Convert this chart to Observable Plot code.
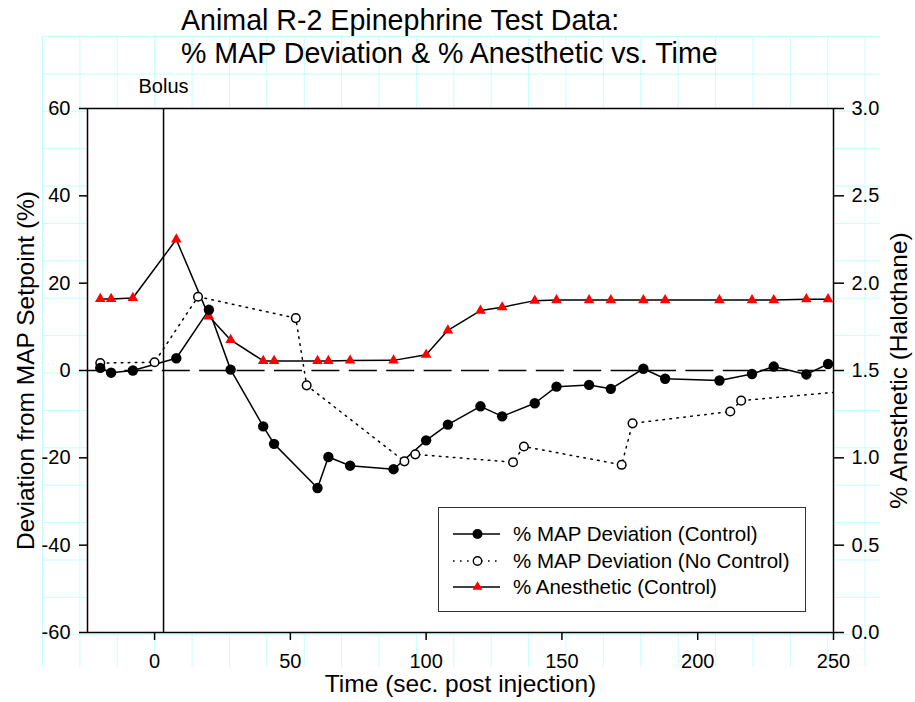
<!DOCTYPE html>
<html>
<head>
<meta charset="utf-8">
<script src="https://cdn.jsdelivr.net/npm/d3@7"></script>
<script src="https://cdn.jsdelivr.net/npm/@observablehq/plot@0.6"></script>
<style>
  html, body { margin: 0; padding: 0; background: white; }
  #wrap { position: relative; width: 915px; height: 702px; overflow: hidden; font-family: Arial, "Liberation Sans", sans-serif; color: black; }
  #grid { position: absolute; left: 42px; top: 36px; width: 838px; height: 631px;
    background-image: linear-gradient(to right, #c4ffff 1px, transparent 1px), linear-gradient(to bottom, #c4ffff 1px, transparent 1px);
    background-size: 37.4px 37.4px; }
  #chart { position: absolute; left: 0; top: 0; }
  #title { position: absolute; left: 181px; top: 3.6px; font-size: 28.6px; line-height: 33px; white-space: nowrap; }
  #legendBox { position: absolute; left: 438px; top: 507px; width: 368px; height: 105px; box-sizing: border-box; border: 1.4px solid #333; background: white; }
  .lrow { position: absolute; left: 452px; height: 26px; display: flex; align-items: center; font-size: 20.5px; line-height: 26px; white-space: nowrap; }
  .lrow svg { display: block; flex: none; }
  .lrow span { margin-left: 11px; }
</style>
</head>
<body>
<div id="wrap">
  <div id="grid"></div>
  <div id="chart"></div>
  <div id="title"></div>
  <div id="legendBox"></div>
</div>
<script>
// ---- Data ----
const titleLines = ["Animal R-2 Epinephrine Test Data:", "% MAP Deviation & % Anesthetic vs. Time"];
const xLabel = "Time (sec. post injection)";
const yLabel = "Deviation from MAP Setpoint (%)";
const y2Label = "% Anesthetic (Halothane)";
const bolusLabel = "Bolus";
const bolusTime = [3.3];

const xTicks = [0, 50, 100, 150, 200, 250];
const yTicks = [-60, -40, -20, 0, 20, 40, 60];
const y2Ticks = [0, 0.5, 1.0, 1.5, 2.0, 2.5, 3.0];

const controlTime = [-20, -16, -8, 8, 20, 28, 40, 44, 60, 64, 72, 88, 100, 108, 120, 128, 140, 148, 160, 168, 180, 188, 208, 220, 228, 240, 248];
const controlMAP = [0.6, -0.5, 0, 2.8, 13.9, 0.2, -12.8, -16.8, -26.9, -19.8, -21.8, -22.6, -16.0, -12.4, -8.2, -10.5, -7.5, -3.7, -3.3, -4.2, 0.4, -1.9, -2.3, -0.8, 0.9, -0.9, 1.5];
const anesthetic = [1.91, 1.91, 1.915, 2.25, 1.81, 1.675, 1.555, 1.555, 1.555, 1.555, 1.557, 1.558, 1.59, 1.73, 1.843, 1.862, 1.90, 1.903, 1.903, 1.903, 1.903, 1.903, 1.903, 1.903, 1.903, 1.908, 1.908];

const noControlTime = [-20, 0, 16, 52, 56, 92, 96, 132, 136, 172, 176, 212, 216, 252];
const noControlMAP = [1.7, 1.9, 16.9, 12.0, -3.4, -20.8, -19.2, -21.0, -17.4, -21.6, -12.1, -9.4, -6.9, -4.9];

const legendLabels = ["% MAP Deviation (Control)", "% MAP Deviation (No Control)", "% Anesthetic (Control)"];

// ---- Build tables ----
const yMin = -60, yMax = 60, y2Min = 0, y2Max = 3;
const toLeft = a => yMin + (a - y2Min) / (y2Max - y2Min) * (yMax - yMin);
const fromLeft = v => y2Min + (v - yMin) / (yMax - yMin) * (y2Max - y2Min);

const control = controlTime.map((t, i) => ({t, v: controlMAP[i]}));
const anes = controlTime.map((t, i) => ({t, v: toLeft(anesthetic[i])}));
const noControl = noControlTime.map((t, i) => ({t, v: noControlMAP[i]}));

const FONT = "Arial, 'Liberation Sans', sans-serif";
const dotted = "1.6,5.4";

const chart = Plot.plot({
  width: 915,
  height: 702,
  marginLeft: 87,
  marginRight: 82,
  marginTop: 108,
  marginBottom: 70,
  style: {fontFamily: FONT, background: "transparent", color: "black", overflow: "visible"},
  x: {domain: [-24.7, 250]},
  y: {domain: [yMin, yMax]},
  marks: [
    Plot.frame({fill: "white", stroke: "none"}),
    Plot.ruleY([0], {stroke: "black", strokeWidth: 1.5, strokeDasharray: "28,9.4"}),
    Plot.ruleX(bolusTime, {x: d => d, stroke: "black", strokeWidth: 1.5}),
    Plot.text(bolusTime, {x: d => d, frameAnchor: "top", dy: -22.4, textAnchor: "middle", lineAnchor: "middle", text: () => bolusLabel, fontSize: 20, fill: "black"}),
    Plot.line(noControl, {x: "t", y: "v", stroke: "black", strokeWidth: 1.5, strokeDasharray: dotted, clip: true}),
    Plot.line(anes, {x: "t", y: "v", stroke: "black", strokeWidth: 1.5, clip: true}),
    Plot.line(control, {x: "t", y: "v", stroke: "black", strokeWidth: 1.5, clip: true}),
    Plot.dot(noControl, {x: "t", y: "v", r: 4.3, fill: "white", stroke: "black", strokeWidth: 1.5, clip: true}),
    Plot.dot(anes, {x: "t", y: "v", r: 3.95, symbol: "triangle", fill: "#ff0000", stroke: "none", clip: true}),
    Plot.dot(control, {x: "t", y: "v", r: 5.2, fill: "black", stroke: "none", clip: true}),
    Plot.frame({stroke: "black", strokeWidth: 1.5}),
    Plot.axisX(xTicks, {tickSize: 8, tickPadding: 13, fontSize: 20, label: null, tickFormat: d => String(d), stroke: "black", strokeWidth: 1.5, fill: "black"}),
    Plot.axisY(yTicks, {anchor: "left", tickSize: 8, tickPadding: 9, fontSize: 20, label: null, tickFormat: d => String(d), stroke: "black", strokeWidth: 1.5, fill: "black"}),
    Plot.axisY(y2Ticks.map(toLeft), {anchor: "right", tickSize: 10, tickPadding: 8, fontSize: 20, label: null, tickFormat: v => fromLeft(v).toFixed(1), stroke: "black", strokeWidth: 1.5, fill: "black"}),
    Plot.text([xLabel], {frameAnchor: "bottom", dy: 52, textAnchor: "middle", lineAnchor: "middle", fontSize: 24.5, fill: "black", text: d => d}),
    Plot.text([yLabel], {frameAnchor: "left", dx: -61.7, rotate: -90, textAnchor: "middle", lineAnchor: "middle", fontSize: 24.5, fill: "black", text: d => d}),
    Plot.text([y2Label], {frameAnchor: "right", dx: 65.5, rotate: -90, textAnchor: "middle", lineAnchor: "middle", fontSize: 24.5, fill: "black", text: d => d})
  ]
});
document.getElementById("chart").appendChild(chart);

// ---- Title ----
document.getElementById("title").innerHTML = titleLines.map(s => `<div>${s.replace(/&/g, "&amp;")}</div>`).join("");

// ---- Legend ----
const swatches = [
  `<line x1="1" y1="13" x2="48" y2="13" stroke="black" stroke-width="1.5"/><circle cx="25.5" cy="13" r="5" fill="black"/>`,
  `<line x1="1" y1="13" x2="48" y2="13" stroke="black" stroke-width="1.5" stroke-dasharray="${dotted}"/><circle cx="25.5" cy="13" r="4.2" fill="white" stroke="black" stroke-width="1.4"/>`,
  `<line x1="1" y1="13" x2="48" y2="13" stroke="black" stroke-width="1.5"/><path d="${d3.symbol(d3.symbolTriangle, 42)()}" transform="translate(25.5,13)" fill="#ff0000"/>`
];
const rowCenters = [534.3, 560.7, 586.7];
const wrap = document.getElementById("wrap");
legendLabels.forEach((label, i) => {
  const row = document.createElement("div");
  row.className = "lrow";
  row.style.top = (rowCenters[i] - 13) + "px";
  row.innerHTML = `<svg width="50" height="26">${swatches[i]}</svg><span>${label}</span>`;
  wrap.appendChild(row);
});
</script>
</body>
</html>
